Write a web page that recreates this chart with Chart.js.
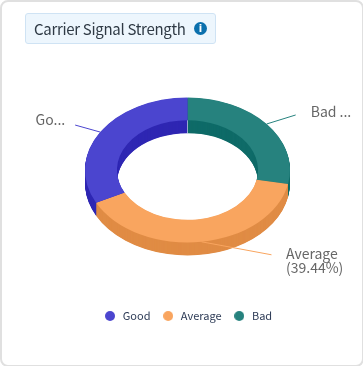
<!DOCTYPE html>
<html>
<head>
<meta charset="utf-8">
<script src="https://cdn.jsdelivr.net/npm/chart.js@4"></script>
<style>
html,body{margin:0;padding:0;background:#fff;}
#card{position:absolute;left:0;top:0;width:360px;height:363px;border:2px solid #e0e0e0;border-radius:8px;overflow:hidden;}
#wrap{position:absolute;left:0;top:0;width:363px;height:366px;}
canvas{position:absolute;left:0;top:0;}
#title{position:absolute;left:25px;top:13px;width:189px;height:29px;box-sizing:content-box;background:#edf6fd;border:1px solid #cfe3f4;border-radius:3px;
font:15px "Noto Sans CJK SC","Noto Sans",sans-serif;letter-spacing:-0.3px;color:#2f3a45;line-height:29px;}
#title span.t{position:absolute;left:8px;top:0;white-space:nowrap;}
#title span.i{position:absolute;left:168px;top:8px;width:13px;height:13px;border-radius:50%;background:#0b70ad;color:#fff;font:bold 10px/13px "DejaVu Sans",sans-serif;letter-spacing:0;text-align:center;}
</style>
</head>
<body>
<div id="wrap">
<canvas id="c" width="363" height="366"></canvas>
<div id="card"></div>
<div id="title"><span class="t">Carrier Signal Strength</span><span class="i">i</span></div>
</div>
<script>
const categories = ["Bad", "Average", "Good"];
const values = [28.1, 39.44, 32.46];
const faceColors = ["#26827e", "#f9a55f", "#4b45cf"];
const wallColors = ["#0f6b68", "#e08c45", "#2f27b3"];
const sliceLabels = [["Bad ..."], ["Average", "(39.44%)"], ["Go..."]];

const tilt = 0.707, depth = 13;
const leaderEnds = [[29, -9], [70, 13], [-25, -7]];
const labelPos = [[15, -3.5, "left"], [14.5, -1.5, "left"], [-10, -5.5, "right"]];

function dotImage(color) {
  const c = document.createElement("canvas");
  c.width = 10; c.height = 10;
  const g = c.getContext("2d");
  g.fillStyle = color;
  g.beginPath();
  g.arc(5, 5, 5, 0, Math.PI * 2);
  g.fill();
  return c;
}

const pseudo3d = {
  id: "pseudo3d",
  beforeDatasetsDraw(chart) {
    const ctx = chart.ctx, arcs = chart.getDatasetMeta(0).data;
    const cx = arcs[0].x, cy = arcs[0].y;
    ctx.save();
    for (let d = depth; d > 0; d -= 0.5) {
      ctx.save();
      ctx.translate(cx, cy + d);
      ctx.scale(1, tilt);
      arcs.forEach((a, i) => {
        ctx.beginPath();
        ctx.arc(0, 0, a.outerRadius, a.startAngle, a.endAngle);
        ctx.arc(0, 0, a.innerRadius, a.endAngle, a.startAngle, true);
        ctx.closePath();
        ctx.fillStyle = wallColors[i];
        ctx.fill();
      });
      ctx.restore();
    }
    /* light seam on the inner wall where the first and last slices meet */
    const first = arcs[0];
    const seamY = cy + first.innerRadius * tilt * Math.sin(first.startAngle);
    const seamX = cx + first.innerRadius * Math.cos(first.startAngle);
    ctx.beginPath();
    ctx.moveTo(seamX, seamY);
    ctx.lineTo(seamX, seamY + depth);
    ctx.strokeStyle = "rgba(255,255,255,0.55)";
    ctx.lineWidth = 1;
    ctx.stroke();
    ctx.translate(cx, cy);
    ctx.scale(1, tilt);
    ctx.translate(-cx, -cy);
  },
  afterDatasetsDraw(chart) {
    const ctx = chart.ctx, arcs = chart.getDatasetMeta(0).data;
    ctx.restore();
    arcs.forEach((a, i) => {
      const mid = (a.startAngle + a.endAngle) / 2;
      const x = a.x + a.outerRadius * Math.cos(mid);
      const y = a.y + a.outerRadius * tilt * Math.sin(mid);
      const ex = x + leaderEnds[i][0], ey = y + leaderEnds[i][1];
      ctx.beginPath();
      ctx.moveTo(x, y);
      ctx.lineTo(ex, ey);
      ctx.strokeStyle = faceColors[i];
      ctx.lineWidth = 1;
      ctx.stroke();
      ctx.font = '14px "Noto Sans CJK SC","Noto Sans",sans-serif';
      ctx.fillStyle = "#666666";
      ctx.textAlign = labelPos[i][2];
      ctx.textBaseline = "middle";
      sliceLabels[i].forEach((t, k) => {
        ctx.fillText(t, ex + labelPos[i][0], ey + labelPos[i][1] + k * 14);
      });
    });
  }
};

new Chart(document.getElementById("c"), {
  type: "doughnut",
  data: {
    labels: categories,
    datasets: [{
      data: values,
      backgroundColor: faceColors,
      borderWidth: 0,
      clip: false
    }]
  },
  options: {
    responsive: false,
    animation: false,
    cutout: "68.8%",
    layout: { padding: { left: 85, right: 73, top: 40, bottom: 34.5 } },
    plugins: {
      tooltip: { enabled: false },
      legend: {
        position: "bottom",
        reverse: true,
        labels: {
          usePointStyle: true,
          pointStyleWidth: 14.4,
          boxHeight: 10,
          padding: 10.5,
          color: "#2c3a55",
          font: { size: 11, family: '"Noto Sans CJK SC","Noto Sans",sans-serif' },
          generateLabels(chart) {
            const items = Chart.overrides.doughnut.plugins.legend.labels.generateLabels(chart);
            items.forEach((it, i) => { it.pointStyle = dotImage(faceColors[i]); });
            return items;
          }
        }
      }
    }
  },
  plugins: [pseudo3d]
});
</script>
</body>
</html>
